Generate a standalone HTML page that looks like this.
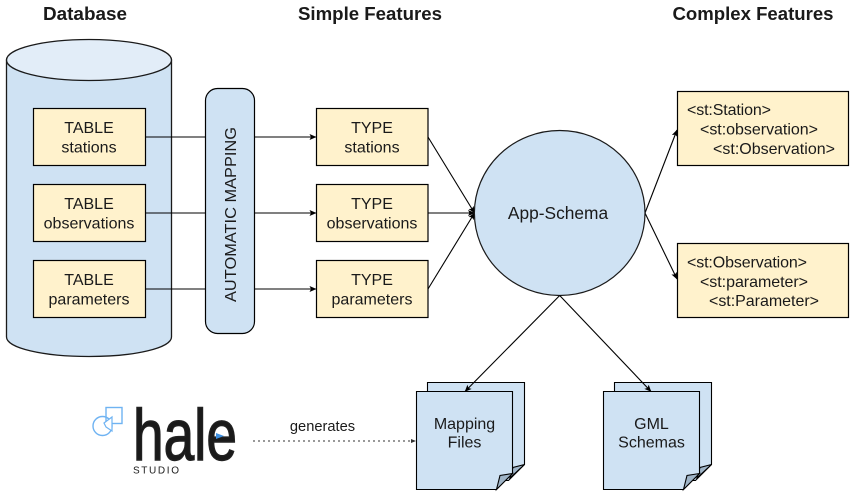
<!DOCTYPE html>
<html><head><meta charset="utf-8"><style>html,body{margin:0;padding:0;background:#fff}svg{display:block}text{font-family:"Liberation Sans",sans-serif;fill:#1a1a1a}</style></head>
<body>
<svg width="857" height="499" viewBox="0 0 857 499" xmlns="http://www.w3.org/2000/svg">
<defs>
<marker id="a" markerWidth="8" markerHeight="8" refX="6.5" refY="3" orient="auto" markerUnits="userSpaceOnUse"><path d="M0 0L7 3L0 6L1.5 3Z" fill="#000"/></marker>
</defs>
<g font-size="18.67" font-weight="bold" text-anchor="middle">
<text x="85" y="20" textLength="84" lengthAdjust="spacingAndGlyphs">Database</text>
<text x="370" y="20" textLength="144" lengthAdjust="spacingAndGlyphs">Simple Features</text>
<text x="753" y="20" textLength="161" lengthAdjust="spacingAndGlyphs">Complex Features</text>
</g>
<path d="M6.5 60V337C6.500 348 43 356.5 89 356.5S171.5 348 171.5 337V60Z" fill="#cfe2f3" stroke="#1a1a1a" stroke-width="1.3"/>
<ellipse cx="89" cy="60" rx="82.5" ry="20.5" fill="#e2edf8" stroke="#1a1a1a" stroke-width="1.3"/>
<g fill="#fff2cc" stroke="#000" stroke-width="1.2">
<rect x="33.5" y="108.5" width="112" height="57"/>
<rect x="33.5" y="184.5" width="112" height="57"/>
<rect x="33.5" y="260.5" width="112" height="57"/>
<rect x="316.5" y="108.5" width="111.5" height="57"/>
<rect x="316.5" y="184.5" width="111.5" height="57"/>
<rect x="316.5" y="260.5" width="111.5" height="57"/>
<rect x="677.5" y="91.5" width="171" height="74"/>
<rect x="677.5" y="243.5" width="171" height="74"/>
</g>
<g stroke="#000" stroke-width="1.1" fill="none">
<path d="M145.5 137H206M145.5 213H206M145.5 289H206"/>
<path d="M254 137H316" marker-end="url(#a)"/>
<path d="M254 213H316" marker-end="url(#a)"/>
<path d="M254 289H316" marker-end="url(#a)"/>
<path d="M428 137L474.5 213" marker-end="url(#a)"/>
<path d="M428 213H474.5" marker-end="url(#a)"/>
<path d="M428 289L474.5 213" marker-end="url(#a)"/>
<path d="M645 213L677 130" marker-end="url(#a)"/>
<path d="M645 213L677 279" marker-end="url(#a)"/>
</g>
<rect x="205.5" y="88.5" width="49" height="245" rx="12" fill="#cfe2f3" stroke="#000" stroke-width="1.2"/>
<ellipse cx="559.7" cy="213" rx="85.3" ry="82.5" fill="#cfe2f3" stroke="#1a1a1a" stroke-width="1.2"/>
<g font-size="16" text-anchor="middle">
<text x="89" y="133">TABLE</text><text x="89" y="152.5">stations</text>
<text x="89" y="209">TABLE</text><text x="89" y="228.5">observations</text>
<text x="89" y="285">TABLE</text><text x="89" y="304.5">parameters</text>
<text x="372" y="133">TYPE</text><text x="372" y="152.5">stations</text>
<text x="372" y="209">TYPE</text><text x="372" y="228.5">observations</text>
<text x="372" y="285">TYPE</text><text x="372" y="304.5">parameters</text>
<text x="558" y="219" font-size="17.33">App-Schema</text>
<text transform="translate(236 214.5) rotate(-90)" textLength="175" lengthAdjust="spacingAndGlyphs">AUTOMATIC MAPPING</text>
</g>
<g font-size="16">
<text x="687" y="115" textLength="84">&lt;st:Station&gt;</text>
<text x="700" y="134.5" textLength="118">&lt;st:observation&gt;</text>
<text x="713" y="154" textLength="122">&lt;st:Observation&gt;</text>
<text x="687" y="267.5" textLength="120">&lt;st:Observation&gt;</text>
<text x="700" y="287" textLength="108">&lt;st:parameter&gt;</text>
<text x="709" y="306" textLength="110">&lt;st:Parameter&gt;</text>
</g>
<g stroke="#000" stroke-width="1.1">
<path d="M427.5 382.5H524.5V464.5L508.5 480.5H427.5Z" fill="#cfe2f3"/>
<path d="M524.5 464.500L510 478L513 467.5Z" fill="#9fb4c7"/>
<path d="M416.5 391.5H512.5V473.500L496.5 489.5H416.5Z" fill="#cfe2f3"/>
<path d="M512.5 473.5L496.5 489.5L500 475.5Z" fill="#9fb4c7"/>
<path d="M614.5 382.5H711.5V464.5L695.5 480.5H614.5Z" fill="#cfe2f3"/>
<path d="M711.5 464.5L697 478L700 467.5Z" fill="#9fb4c7"/>
<path d="M603.5 391.5H699.5V473.500L683.5 489.5H603.5Z" fill="#cfe2f3"/>
<path d="M699.5 473.5L683.5 489.5L687 475.5Z" fill="#9fb4c7"/>
</g>
<g stroke="#000" stroke-width="1.1" fill="none">
<path d="M559.7 295.5L465 391.5" marker-end="url(#a)"/>
<path d="M559.7 295.5L651 391.5" marker-end="url(#a)"/>
</g>
<g font-size="16" text-anchor="middle">
<text x="464.500" y="429">Mapping</text><text x="464.500" y="447.5">Files</text>
<text x="651.500" y="429">GML</text><text x="651.500" y="447.5">Schemas</text>
</g>
<path d="M253 441H414" stroke="#333" stroke-width="1" stroke-dasharray="2 3" fill="none"/>
<path d="M411 439L416 441L411 443Z" fill="#333"/>
<text x="322.500" y="431" font-size="14.67" text-anchor="middle">generates</text>
<g fill="none" stroke="#6fb3f2" stroke-width="1.4">
<rect x="106" y="407.5" width="16" height="16"/>
<circle cx="102.5" cy="426" r="9.5"/>
</g>
<path d="M104 423L112 417V431L106 427Z" fill="#fff" stroke="#6fb3f2" stroke-width="1.2"/>
<text x="133" y="460" font-size="72" textLength="104" lengthAdjust="spacingAndGlyphs" fill="#222" stroke="#222" stroke-width="1.4">hale</text>
<path d="M216 433L224 436L216 439Z" fill="#3d8fe0"/>
<text x="133" y="473.5" font-size="10" textLength="46" fill="#555">STUDIO</text>
</svg>
</body></html>
